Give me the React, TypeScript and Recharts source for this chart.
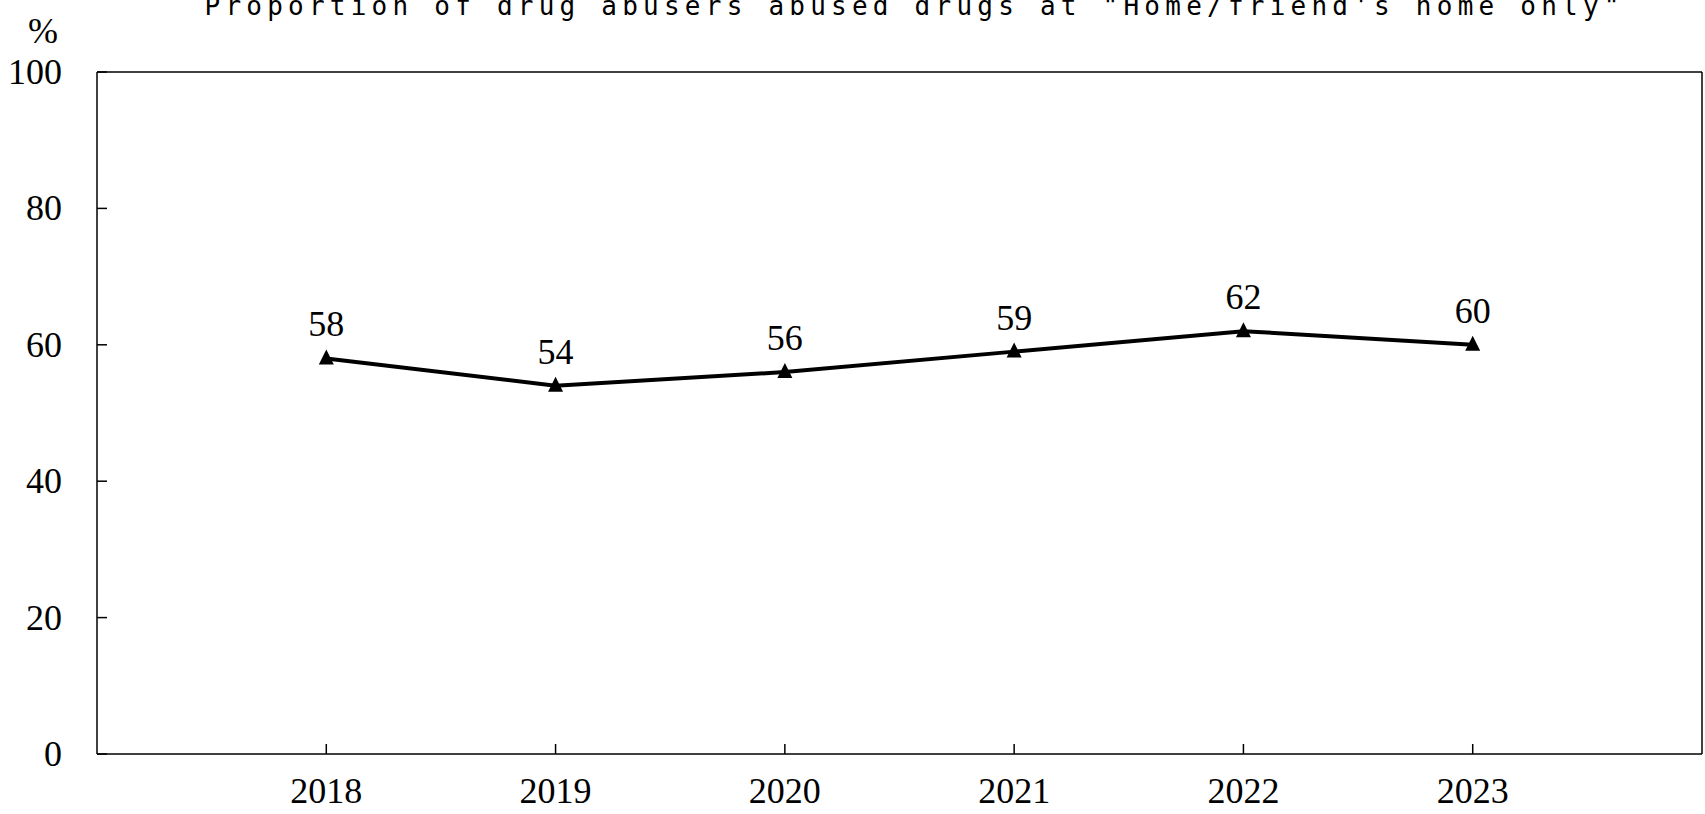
import React from "react";
import { LineChart, Line, XAxis, YAxis, LabelList } from "recharts";

const years = ["2018", "2019", "2020", "2021", "2022", "2023"];
const proportion = [58, 54, 56, 59, 62, 60];
const yTicks = [0, 20, 40, 60, 80, 100];
const title = 'Proportion of drug abusers abused drugs at "Home/friend\'s home only"';
const unitLabel = "%";

const data = years.map((y, i) => ({ year: y, value: proportion[i] }));

const SERIF = '"Liberation Serif", "Times New Roman", serif';

const XTick = (props: any) => {
  const { x, y, payload } = props;
  return (
    <g>
      <line x1={x} x2={x} y1={y} y2={y - 10} stroke="#000" strokeWidth={1.5} />
      <text x={x} y={y + 49} textAnchor="middle" fontFamily={SERIF} fontSize={36} fill="#000">
        {payload.value}
      </text>
    </g>
  );
};

const YTick = (props: any) => {
  const { x, y, payload } = props;
  return (
    <g>
      <line x1={x} x2={x + 10} y1={y} y2={y} stroke="#000" strokeWidth={1.5} />
      <text x={x - 35} y={y + 12} textAnchor="end" fontFamily={SERIF} fontSize={36} fill="#000">
        {payload.value}
      </text>
    </g>
  );
};

const Triangle = (props: any) => {
  const { cx, cy } = props;
  if (cx == null || cy == null) return null;
  return (
    <polygon
      points={`${cx},${cy - 9} ${cx - 7.5},${cy + 6} ${cx + 7.5},${cy + 6}`}
      fill="#000"
      stroke="none"
    />
  );
};

const ValueLabel = (props: any) => {
  const { x, y, value } = props;
  return (
    <text x={x} y={y - 22} textAnchor="middle" fontFamily={SERIF} fontSize={36} fill="#000">
      {value}
    </text>
  );
};

export default function App() {
  const W = 1705;
  const H = 814;
  const plotLeft = 97;
  const plotRight = 1702;
  const plotTop = 72;
  const plotBottom = 754;
  const plotW = plotRight - plotLeft;
  const pad = plotW / 7;
  return (
    <div style={{ position: "absolute", left: 0, top: 0, width: W, height: H, background: "#fff" }}>
      <LineChart
        width={W}
        height={H}
        data={data}
        margin={{ top: plotTop - 1, right: 0, bottom: 0, left: 0 }}
      >
        <XAxis
          dataKey="year"
          xAxisId={0}
          height={H - plotBottom}
          padding={{ left: pad, right: pad }}
          tickSize={0}
          tickMargin={0}
          tickLine={false}
          tick={<XTick />}
          axisLine={{ stroke: "#000", strokeWidth: 1.5 }}
          interval={0}
        />
        <XAxis
          dataKey="year"
          xAxisId="top"
          orientation="top"
          height={1}
          tick={false}
          tickLine={false}
          axisLine={{ stroke: "#000", strokeWidth: 1.5 }}
        />
        <YAxis
          yAxisId={0}
          width={plotLeft}
          domain={[0, 100]}
          ticks={yTicks}
          tickSize={0}
          tickMargin={0}
          tickLine={false}
          tick={<YTick />}
          axisLine={{ stroke: "#000", strokeWidth: 1.5 }}
          interval={0}
        />
        <YAxis
          yAxisId="right"
          orientation="right"
          width={W - plotRight}
          domain={[0, 100]}
          tick={false}
          tickLine={false}
          axisLine={{ stroke: "#000", strokeWidth: 1.5 }}
        />
        <Line
          type="linear"
          dataKey="value"
          xAxisId={0}
          yAxisId={0}
          stroke="#000"
          strokeWidth={4}
          dot={<Triangle />}
          activeDot={false}
          isAnimationActive={false}
        >
          <LabelList dataKey="value" content={<ValueLabel />} />
        </Line>
      </LineChart>
      <svg
        width={W}
        height={H}
        style={{ position: "absolute", left: 0, top: 0, pointerEvents: "none" }}
      >
        <text
          x={912}
          y={15}
          textAnchor="middle"
          fontFamily='"DejaVu Sans Mono", monospace'
          fontSize={26}
          textLength={1415}
          lengthAdjust="spacing"
          fill="#000"
        >
          {title}
        </text>
        <text x={43} y={43} textAnchor="middle" fontFamily={SERIF} fontSize={36} fill="#000">
          {unitLabel}
        </text>
      </svg>
    </div>
  );
}
